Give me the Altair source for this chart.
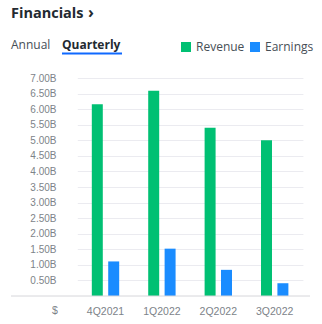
import altair as alt
import pandas as pd

quarters = ["4Q2021", "1Q2022", "2Q2022", "3Q2022"]
revenue = [6.16, 6.59, 5.40, 5.00]
earnings = [1.11, 1.52, 0.84, 0.41]
series = ["Revenue", "Earnings"]
colors = ["#00C073", "#1A8CFF"]
y_ticks = [0.5, 1.0, 1.5, 2.0, 2.5, 3.0, 3.5, 4.0, 4.5, 5.0, 5.5, 6.0, 6.5, 7.0]

rows = []
for q, r, e in zip(quarters, revenue, earnings):
    rows.append({"quarter": q, "series": "Revenue", "value": r})
    rows.append({"quarter": q, "series": "Earnings", "value": e})
df = pd.DataFrame(rows)

W, H = 242, 218
LABEL_GRAY = "#7d8389"
HEAD_FONT = "Open Sans"
AX_FONT = "Liberation Sans"

yaxis = alt.Axis(title=None, values=y_ticks, labelExpr="format(datum.value, '.2f') + 'B'",
                 domain=False, ticks=False, tickSize=0, grid=True, gridColor="#ebebf0",
                 labelFont=AX_FONT, labelFontSize=10, labelColor=LABEL_GRAY,
                 labelPadding=12, labelOverlap=False, labelFlush=False,
                 labelBound=False, tickCount=14)
yscale = alt.Scale(domain=[0, 7], nice=False)

bars = alt.Chart(df).mark_bar().encode(
    x=alt.X("quarter:N", sort=quarters,
            scale=alt.Scale(range=[9.3, 234.9], paddingInner=0, paddingOuter=0),
            axis=alt.Axis(title=None, labelAngle=0, domain=False, ticks=False, tickSize=0,
                          labelFont=AX_FONT, labelFontSize=10.5, labelColor=LABEL_GRAY,
                          labelBaseline="alphabetic", labelPadding=18, grid=False,
                          labelOverlap=False)),
    xOffset=alt.XOffset("series:N", sort=series,
                        scale=alt.Scale(domain=series, paddingInner=0.33, paddingOuter=0.885)),
    y=alt.Y("value:Q", scale=yscale, axis=yaxis),
    color=alt.Color("series:N", sort=series,
                    scale=alt.Scale(domain=series, range=colors),
                    legend=alt.Legend(title=None, orient="none", legendX=112, legendY=-37,
                                      direction="horizontal", symbolType="square",
                                      symbolSize=100, symbolStrokeWidth=0, symbolOpacity=1,
                                      labelFont=HEAD_FONT, labelFontSize=12,
                                      labelColor="#464e56", labelOffset=4, columnPadding=4,
                                      padding=0)),
)

baseline = alt.Chart(pd.DataFrame({"value": [0]})).mark_rule(color="#d6d6da", strokeWidth=1).encode(
    y=alt.Y("value:Q", scale=yscale, axis=yaxis), x=alt.value(-57), x2=alt.value(W)
)

def txt(s, x, y, size, color, weight="normal", font=HEAD_FONT, align="left"):
    return alt.Chart(pd.DataFrame({"t": [s]})).mark_text(
        align=align, baseline="alphabetic", font=font, fontSize=size,
        fontWeight=weight, color=color
    ).encode(text="t:N", x=alt.value(x), y=alt.value(y))

title = txt("Financials", -57, -60, 14.5, "#232a31", weight="bold")
chevron = txt("›", 20, -60, 16, "#232a31", weight="bold")
annual = txt("Annual", -57, -29, 12, "#464e56")
quarterly = txt("Quarterly", -6, -29, 12, "#232a31", weight="bold")
underline = alt.Chart(pd.DataFrame({"v": [0]})).mark_rule(color="#0f69ff", strokeWidth=2).encode(
    x=alt.value(-6), x2=alt.value(54), y=alt.value(-24.5)
)
dollar = txt("$", -13, H + 18, 10.5, LABEL_GRAY, font=AX_FONT, align="center")

chart = alt.layer(bars, baseline, title, chevron, annual, quarterly, underline, dollar).properties(
    width=W, height=H,
    autosize=alt.AutoSizeParams(type="none"),
    padding={"left": 68, "top": 78, "right": 12, "bottom": 28},
    background="white",
).configure_view(stroke=None)

chart.save("out.html", embed_options={"renderer": "svg", "actions": False})
